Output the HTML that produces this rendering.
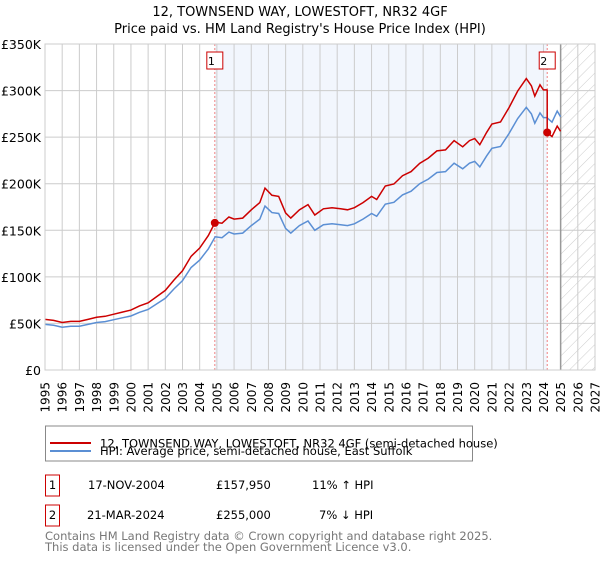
<!DOCTYPE html>
<html><head><meta charset="utf-8"><style>
body{margin:0;background:#fff;font-family:"Liberation Sans","DejaVu Sans",sans-serif}
svg text{font-family:"DejaVu Sans","Liberation Sans",sans-serif}
</style></head><body>
<svg id="c" width="600" height="560" viewBox="0 0 600 560">
<defs><pattern id="hatch" width="8" height="8" patternUnits="userSpaceOnUse" patternTransform="rotate(45)"><line x1="0" y1="0" x2="0" y2="8" stroke="#ccc" stroke-width="1"/></pattern></defs>
<text x="300" y="16" text-anchor="middle" font-size="13">12, TOWNSEND WAY, LOWESTOFT, NR32 4GF</text>
<text x="300" y="33" text-anchor="middle" font-size="13">Price paid vs. HM Land Registry's House Price Index (HPI)</text>
<g id="plot"></g>
<rect x="45.5" y="426" width="427" height="35" fill="#fff" stroke="#888"/>
<line x1="50" y1="443" x2="91" y2="443" stroke="#cc0000" stroke-width="2"/>
<text x="100" y="447.5" font-size="11.5">12, TOWNSEND WAY, LOWESTOFT, NR32 4GF (semi-detached house)</text>
<line x1="50" y1="451" x2="91" y2="451" stroke="#5b8fd4" stroke-width="2" transform="translate(0,0)" style="display:none"/>
<line x1="50" y1="450" x2="91" y2="450" stroke="#5b8fd4" stroke-width="2" transform="translate(0,0)" style="display:none"/>
<line x1="50" y1="451" x2="91" y2="451" stroke="#5b8fd4" stroke-width="2" transform="translate(0,0)"/>
<text x="100" y="455" font-size="11.5" transform="translate(0,0)">HPI: Average price, semi-detached house, East Suffolk</text>
<rect x="45.5" y="475" width="14" height="21" fill="#fff" stroke="#cc0000"/>
<text x="52.5" y="489" font-size="11.5" text-anchor="middle">1</text>
<text x="88" y="489" font-size="11.5">17-NOV-2004</text>
<text x="216" y="489" font-size="11.5">£157,950</text>
<text x="312" y="489" font-size="11.5">11% ↑ HPI</text>
<rect x="45.5" y="505" width="14" height="21" fill="#fff" stroke="#cc0000"/>
<text x="52.5" y="519" font-size="11.5" text-anchor="middle">2</text>
<text x="87" y="519" font-size="11.5">21-MAR-2024</text>
<text x="216" y="519" font-size="11.5">£255,000</text>
<text x="319" y="519" font-size="11.5">7% ↓ HPI</text>
<text x="45" y="540" font-size="11.5" fill="#777">Contains HM Land Registry data © Crown copyright and database right 2025.</text>
<text x="45" y="551" font-size="11.5" fill="#777">This data is licensed under the Open Government Licence v3.0.</text>
</svg>
<script>
const hpiYears=[1995.0,1995.5,1996.0,1996.5,1997.0,1997.5,1998.0,1998.5,1999.0,1999.5,2000.0,2000.5,2001.0,2001.5,2002.0,2002.5,2003.0,2003.5,2004.0,2004.5,2004.9,2005.3,2005.7,2006.0,2006.5,2007.0,2007.5,2007.8,2008.2,2008.6,2009.0,2009.3,2009.8,2010.3,2010.7,2011.2,2011.7,2012.2,2012.6,2013.0,2013.5,2014.0,2014.3,2014.8,2015.3,2015.8,2016.3,2016.8,2017.3,2017.8,2018.3,2018.8,2019.3,2019.7,2020.0,2020.3,2020.7,2021.0,2021.5,2022.0,2022.5,2023.0,2023.3,2023.5,2023.8,2024.0,2024.2,2024.5,2024.8,2025.0];
const hpiValues=[49,48,46,47,47,49,51,52,54,56,58,62,65,71,77,87,96,110,118,130,143,142,148,146,147,155,162,176,169,168,152,147,155,160,150,156,157,156,155,157,162,168,165,178,180,188,192,200,205,212,213,222,216,222,224,218,230,238,240,254,270,282,275,265,276,271,271,266,278,272];
const saleYears=[2004.88,2024.22];
const salePrices=[157.95,255];
const saleLabels=["1","2"];
const yTicks=[0,50,100,150,200,250,300,350];
const yTickLabels=["£0","£50K","£100K","£150K","£200K","£250K","£300K","£350K"];
const xTicks=[1995,1996,1997,1998,1999,2000,2001,2002,2003,2004,2005,2006,2007,2008,2009,2010,2011,2012,2013,2014,2015,2016,2017,2018,2019,2020,2021,2022,2023,2024,2025,2026,2027];
const NS="http://www.w3.org/2000/svg";
const L=45,R=595,T=44,B=370,x0=1995,x1=2027,yMax=350;
const xs=v=>L+(v-x0)/(x1-x0)*(R-L);
const ys=v=>B-v/yMax*(B-T);
const g=document.getElementById('plot');
function mk(tag,attrs){const e=document.createElementNS(NS,tag);for(const k in attrs)e.setAttribute(k,attrs[k]);g.appendChild(e);return e;}
function hpiAt(y){for(let i=1;i<hpiYears.length;i++){if(y<=hpiYears[i]){const t=(y-hpiYears[i-1])/(hpiYears[i]-hpiYears[i-1]);return hpiValues[i-1]+t*(hpiValues[i]-hpiValues[i-1]);}}return hpiValues[hpiValues.length-1];}
let e;
e=mk('rect',{x:xs(saleYears[0]),y:T,width:xs(saleYears[1])-xs(saleYears[0]),height:B-T,fill:'#f2f6fd'});


e=mk('rect',{x:xs(2025),y:T,width:R-xs(2025),height:B-T,fill:'url(#hatch)'});


xTicks.forEach(t=>{
 e=mk('line',{x1:xs(t),x2:xs(t),y1:T,y2:B,stroke:'#ccc','stroke-width':1});
 
 
 e=mk('text',{x:0,y:0,'font-size':12,'text-anchor':'end',transform:`translate(${xs(t)+4.5},${B+12}) rotate(-90)`});
 e.textContent=t;
 
 
});
yTicks.forEach((t,i)=>{
 e=mk('line',{x1:L,x2:R,y1:ys(t),y2:ys(t),stroke:'#ccc','stroke-width':1});
 
 
 e=mk('text',{x:L-4,y:ys(t)+5,'font-size':12.5,'text-anchor':'end'});
 e.textContent=yTickLabels[i];
 
 
});
e=mk('line',{x1:xs(2025),x2:xs(2025),y1:T,y2:B,stroke:'#999','stroke-width':1.5});


saleYears.forEach((s,i)=>{
 e=mk('line',{x1:xs(s),x2:xs(s),y1:T,y2:B,stroke:'#f08080','stroke-width':1,'stroke-dasharray':'2,2'});
 
 
});
// HPI line
let d='';hpiYears.forEach((y,i)=>{d+=(i?'L':'M')+xs(y).toFixed(1)+','+ys(hpiValues[i]).toFixed(1);});
e=mk('path',{d:d,fill:'none',stroke:'#5b8fd4','stroke-width':1.5});


// Price line: indexed by HPI from each sale
function priceAt(y){let k=0;if(y>=saleYears[1])k=1;return salePrices[k]*hpiAt(y)/hpiAt(saleYears[k]);}
const pts=hpiYears.filter(y=>y<saleYears[1]).concat([saleYears[1]-0.001,saleYears[1]]).concat(hpiYears.filter(y=>y>saleYears[1]));
d='';pts.forEach((y,i)=>{const v=(y===saleYears[1]-0.001)?salePrices[0]*hpiAt(y)/hpiAt(saleYears[0]):priceAt(y);d+=(i?'L':'M')+xs(y).toFixed(1)+','+ys(v).toFixed(1);});
e=mk('path',{d:d,fill:'none',stroke:'#cc0000','stroke-width':1.5});


saleYears.forEach((s,i)=>{
 e=mk('circle',{cx:xs(s),cy:ys(salePrices[i]),r:4,fill:'#cc0000'});
 
 
 e=mk('rect',{x:xs(s)-8,y:52,width:16,height:17,fill:'#fff',stroke:'#cc0000'});
 
 
 e=mk('text',{x:xs(s)-3.5,y:65,'font-size':11,'text-anchor':'middle'});
 e.textContent=saleLabels[i];
 
 
});
e=mk('rect',{x:L,y:T,width:R-L,height:B-T,fill:'none',stroke:'#ccc'});


</script>
</body></html>
